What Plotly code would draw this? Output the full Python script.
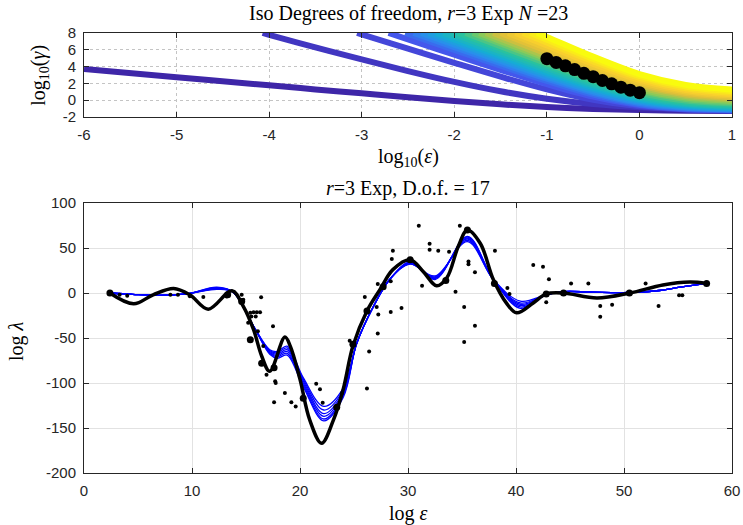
import plotly.graph_objects as go
from plotly.colors import sample_colorscale

# ---------------- top panel data ----------------
GRID_EPS = [-6, -5, -4, -3.5, -3, -2.5, -2, -1.5, -1, -0.5, 0, 0.5, 1]
# x where each iso-curve enters the top of the axes (log10 gamma = 8); None = never
entry_eps = [None, -4.07, -3.05, -2.71, -2.53, -2.44, -2.36, -2.28, -2.20, -2.12, -2.04,
             -1.96, -1.88, -1.80, -1.73, -1.66, -1.58, -1.50, -1.42, -1.34, -1.26, -1.18, -1.11]
N = None
log_gamma_curves = [
    [3.71, 2.74, 1.77, 1.29, 0.82, 0.35, -0.09, -0.49, -0.81, -1.04, -1.17, -1.24, -1.27],
    [N, N, 7.77, 6.30, 4.85, 3.47, 2.18, 1.06, 0.18, -0.45, -0.84, -1.06, -1.18],
    [N, N, N, N, 7.83, 6.14, 4.45, 2.81, 1.29, 0.05, -0.73, -1.09, -1.22],
    [N, N, N, N, N, 7.24, 5.42, 3.62, 1.91, 0.43, -0.57, -1.03, -1.19],
    [N, N, N, N, N, N, 5.99, 4.11, 2.29, 0.66, -0.47, -0.99, -1.15],
    [N, N, N, N, N, N, 6.32, 4.41, 2.56, 0.88, -0.33, -0.91, -1.10],
    [N, N, N, N, N, N, 6.60, 4.67, 2.79, 1.07, -0.20, -0.83, -1.03],
    [N, N, N, N, N, N, 6.90, 4.95, 3.04, 1.29, -0.04, -0.72, -0.95],
    [N, N, N, N, N, N, 7.21, 5.23, 3.29, 1.50, 0.12, -0.61, -0.86],
    [N, N, N, N, N, N, 7.52, 5.52, 3.56, 1.73, 0.30, -0.48, -0.76],
    [N, N, N, N, N, N, 7.84, 5.82, 3.83, 1.96, 0.48, -0.35, -0.65],
    [N, N, N, N, N, N, N, 6.12, 4.11, 2.21, 0.68, -0.20, -0.52],
    [N, N, N, N, N, N, N, 6.43, 4.39, 2.46, 0.88, -0.04, -0.38],
    [N, N, N, N, N, N, N, 6.75, 4.69, 2.73, 1.11, 0.14, -0.24],
    [N, N, N, N, N, N, N, 7.03, 4.95, 2.96, 1.31, 0.31, -0.08],
    [N, N, N, N, N, N, N, 7.33, 5.22, 3.21, 1.52, 0.49, 0.09],
    [N, N, N, N, N, N, N, 7.66, 5.53, 3.49, 1.76, 0.69, 0.27],
    [N, N, N, N, N, N, N, N, 5.85, 3.76, 1.97, 0.86, 0.41],
    [N, N, N, N, N, N, N, N, 6.18, 4.04, 2.20, 1.04, 0.56],
    [N, N, N, N, N, N, N, N, 6.52, 4.32, 2.41, 1.22, 0.72],
    [N, N, N, N, N, N, N, N, 6.87, 4.62, 2.66, 1.42, 0.90],
    [N, N, N, N, N, N, N, N, 7.21, 4.92, 2.89, 1.63, 1.08],
    [N, N, N, N, N, N, N, N, 7.53, 5.19, 3.12, 1.83, 1.28],
]
GAMMA_TOP = 8
dof_eps = [-1.0, -0.9, -0.8, -0.7, -0.6, -0.5, -0.4, -0.3, -0.2, -0.1, 0.0]
dof_gamma = [4.95, 4.5, 4.1, 3.65, 3.2, 2.8, 2.35, 1.95, 1.55, 1.2, 0.9]

top_xticks = [-6, -5, -4, -3, -2, -1, 0, 1]
top_xtick_text = ["-6", "-5", "-4", "-3", "-2", "-1", "0", "1"]
top_yticks = [-2, 0, 2, 4, 6, 8]
top_ytick_text = ["-2", "0", "2", "4", "6", "8"]

# ---------------- bottom panel data ----------------
true_x = [2.4, 4.6, 6.4, 8.3, 9.8, 11.5, 13.7, 14.75, 15.7, 16.45, 17.2, 18.6, 19.1, 20.0,
          20.9, 22.0, 23.1, 24.0, 24.9, 26.2, 27.4, 28.6, 30.2, 31.4, 32.65, 33.6, 34.66,
          35.5, 36.7, 37.9, 39.1, 40.06, 41.6, 42.8, 44.4, 47.5, 50.55, 53.6, 56.1, 57.65]
true_y = [0, -12, -2, 5, -2, -18, 2.5, -14.8, -40.7, -70, -87, -49, -59, -96,
          -141, -167, -141, -107, -59, -20, 3.7, 26, 37, 24, 8, 17, 52,
          70, 55, 15, -11, -22, -11, -1, 0, -5.6, 0, 9, 12.2, 10.7]

blue_x = [2.4, 4.5, 6.8, 9.5, 12.3, 13.8, 15.7, 17.2, 17.9, 18.8, 20.3, 22.2, 24.0, 25.25,
          26.8, 28.3, 30.2, 32.5, 35.5, 37.9, 40.4, 42.8, 44.4, 47.0, 50.0, 53.0, 55.2, 57.65]
blue_fit_1 = [0, -1.5, -2.6, -1, 4.0, 1, -37, -63, -65.0, -59, -94, -126, -106, -56,
              -15, 15, 32.0, 19, 57, 15, -9.0, -2, 1.5, 1, 0.5, 2.5, 6.5, 10.7]
blue_fit_2 = [0, -1.5, -2.6, -1, 4.5, 1, -37, -64, -66.5, -61, -96, -130, -108, -56,
              -15, 15, 32.5, 18, 58.5, 15, -11.0, -2, 1.5, 1, 0.5, 2.5, 6.5, 10.7]
blue_fit_3 = [0, -1.5, -2.6, -1, 5.0, 1, -37, -65, -68.0, -63, -98, -134, -110, -56,
              -15, 15, 33.0, 17, 60, 15, -12.5, -2, 1.5, 1, 0.5, 2.5, 6.5, 10.7]
blue_fit_4 = [0, -1.5, -2.6, -1, 5.5, 1, -37, -66, -69.5, -65, -100, -137, -112, -56,
              -15, 15, 33.5, 16.5, 61, 15, -14.0, -2, 1.5, 1, 0.5, 2.5, 6.5, 10.7]
blue_fit_5 = [0, -1.5, -2.6, -1, 6.0, 1, -37, -67, -71.0, -67, -102, -140, -114, -56,
              -15, 15, 34.0, 16, 62, 15, -15.5, -2, 1.5, 1, 0.5, 2.5, 6.5, 10.7]
blue_fit_6 = [0, -1.5, -2.6, -1, 6.5, 1, -37, -68, -72.5, -69, -104, -142, -116, -56,
              -15, 15, 34.5, 15, 63, 15, -17.0, -2, 1.5, 1, 0.5, 2.5, 6.5, 10.7]

noisy_x = [3.3, 4.0, 8.0, 8.7, 9.8, 11.05, 13.2, 14.6, 14.75, 16.4,
           15.4, 15.7, 16.0, 16.3, 15.5, 15.9, 15.2, 16.1, 16.6, 17.5,
           16.9, 17.7, 17.75, 18.6, 17.6, 19.2, 19.6, 21.5, 21.85, 22.1,
           23.9, 24.6, 26.2, 26.4, 26.0, 27.1, 27.25, 27.2, 28.4, 29.4,
           27.2, 28.4, 28.5, 28.6, 31.0, 32.0, 32.0, 32.8, 33.8, 34.8,
           31.3, 34.4, 35.2, 35.6, 35.6, 36.2, 36.2, 35.2, 38.05, 39.2,
           39.4, 41.6, 42.5, 43.05, 42.8, 45.1, 46.7, 47.8, 47.8, 48.9,
           52.0, 53.2, 55.1, 55.4]
noisy_y = [-2, -3, -2, -2, -3.7, -4.5, -4, -2, -7.4, -4.8,
           -22, -21.5, -21.5, -21.5, -26, -26, -33, -42.6, -59, -37,
           -90.8, -98, -100, -111, -121.5, -121.5, -126, -100.8, -107, -122,
           -111, -53, -106, -65, -4.5, -15.6, -24, -45, -21, -16.7,
           10, 13, 37.8, 47, 74.8, 54.8, 48, 47, 45.9, 74.8,
           8.1, 1.4, -15.6, 35, 32, 23, -36.4, -54.5, 47, 5.5,
           -1.1, 31, 29.2, 15.2, -10.4, 10.7, 10.7, -14.5, -26.3, -13,
           10.7, -14.5, -2.6, -2.6]

centre_x = [2.4, 13.3, 14.6, 15.4, 16.45, 17.6, 20.3, 23.4, 24.9, 26.2, 27.7, 30.2,
            33.5, 35.5, 38.0, 42.8, 44.4, 50.5, 57.65]
centre_y = [0, -2, -9.3, -52, -78, -83, -117, -127, -57, -20, 7, 37,
            14, 70, 10.7, -1, 0, 0, 10.7]

bot_xticks = [0, 10, 20, 30, 40, 50, 60]
bot_xtick_text = ["0", "10", "20", "30", "40", "50", "60"]
bot_yticks = [-200, -150, -100, -50, 0, 50, 100]
bot_ytick_text = ["-200", "-150", "-100", "-50", "0", "50", "100"]

# ---------------- figure ----------------
PARULA = [[0.0, "#3e26a8"], [0.125, "#4652ec"], [0.25, "#2c89f0"], [0.375, "#14afd2"],
          [0.5, "#29c29f"], [0.625, "#83cb5c"], [0.75, "#dcbd3a"], [0.875, "#fbd12d"],
          [1.0, "#f9fb0e"]]
ncurves = len(log_gamma_curves)
colors = sample_colorscale(PARULA, [i / (ncurves - 1) for i in range(ncurves)])

fig = go.Figure()
for i, row in enumerate(log_gamma_curves):
    xs, ys = [], []
    if entry_eps[i] is not None:
        xs.append(entry_eps[i])
        ys.append(GAMMA_TOP)
    for gx, gy in zip(GRID_EPS, row):
        if gy is not None and (entry_eps[i] is None or gx > entry_eps[i]):
            xs.append(gx)
            ys.append(gy)
    fig.add_trace(go.Scatter(x=xs, y=ys, mode="lines", xaxis="x", yaxis="y",
                             line=dict(color=colors[i], width=6, shape="spline"),
                             showlegend=False, hoverinfo="skip"))
fig.add_trace(go.Scatter(x=dof_eps, y=dof_gamma, mode="markers", xaxis="x", yaxis="y",
                         marker=dict(color="black", size=13), showlegend=False))

for yb in [blue_fit_1, blue_fit_2, blue_fit_3, blue_fit_4, blue_fit_5, blue_fit_6]:
    fig.add_trace(go.Scatter(x=blue_x, y=yb, mode="lines", xaxis="x2", yaxis="y2",
                             line=dict(color="#0000ff", width=1.3, shape="spline"),
                             showlegend=False))
fig.add_trace(go.Scatter(x=true_x, y=true_y, mode="lines", xaxis="x2", yaxis="y2",
                         line=dict(color="black", width=3.5, shape="spline"),
                         showlegend=False))
fig.add_trace(go.Scatter(x=noisy_x, y=noisy_y, mode="markers", xaxis="x2", yaxis="y2",
                         marker=dict(color="black", size=4), showlegend=False))
fig.add_trace(go.Scatter(x=centre_x, y=centre_y, mode="markers", xaxis="x2", yaxis="y2",
                         marker=dict(color="black", size=7), showlegend=False))

TICKFONT = dict(family="Liberation Sans, Arial, sans-serif", size=15, color="#262626")
common = dict(showline=True, linecolor="#262626", linewidth=1, mirror="ticks",
              ticks="inside", ticklen=5, tickcolor="#262626", zeroline=False,
              tickfont=TICKFONT, showgrid=True, automargin=False, ticklabelstandoff=4)

fig.update_layout(
    width=743, height=525,
    margin=dict(l=84, r=11, t=33, b=52, autoexpand=False),
    paper_bgcolor="white", plot_bgcolor="white",
    showlegend=False,
    xaxis=dict(domain=[0, 1], anchor="y", range=[-6, 1], tickvals=top_xticks,
               ticktext=top_xtick_text, gridcolor="#c4c4c4", griddash="dot", **common),
    yaxis=dict(domain=[0.809, 1.0], anchor="x", range=[-2, 8], tickvals=top_yticks,
               ticktext=top_ytick_text, gridcolor="#c4c4c4", griddash="dot", **common),
    xaxis2=dict(domain=[0, 1], anchor="y2", range=[0, 60], tickvals=bot_xticks,
                ticktext=bot_xtick_text, gridcolor="#e2e2e2", **common),
    yaxis2=dict(domain=[0, 0.6136], anchor="x2", range=[-200, 100], tickvals=bot_yticks,
                ticktext=bot_ytick_text, gridcolor="#e2e2e2", **common),
)

SERIF = dict(family="Liberation Serif, Times New Roman, serif", size=20, color="black")
ann = [
    dict(text="Iso Degrees of freedom, <i>r</i>=3 Exp <i>N</i> =23", x=0.5, y=1.045),
    dict(text="log<sub>10</sub>(<i>ε</i>)", x=0.5, y=0.716),
    dict(text="log<sub>10</sub>(<i>γ</i>)", x=-0.068, y=0.905, textangle=-90),
    dict(text="<i>r</i>=3 Exp, D.o.f. = 17", x=0.5, y=0.647),
    dict(text="log <i>ε</i>", x=0.5, y=-0.093),
    dict(text="log <i>λ</i>", x=-0.105, y=0.30, textangle=-90),
]
for a in ann:
    fig.add_annotation(xref="paper", yref="paper", showarrow=False, font=SERIF,
                       xanchor="center", yanchor="middle", **a)

fig.write_html("out.html", config={"displayModeBar": False},
               post_script="document.body.style.margin='0';document.body.style.padding='0';")
